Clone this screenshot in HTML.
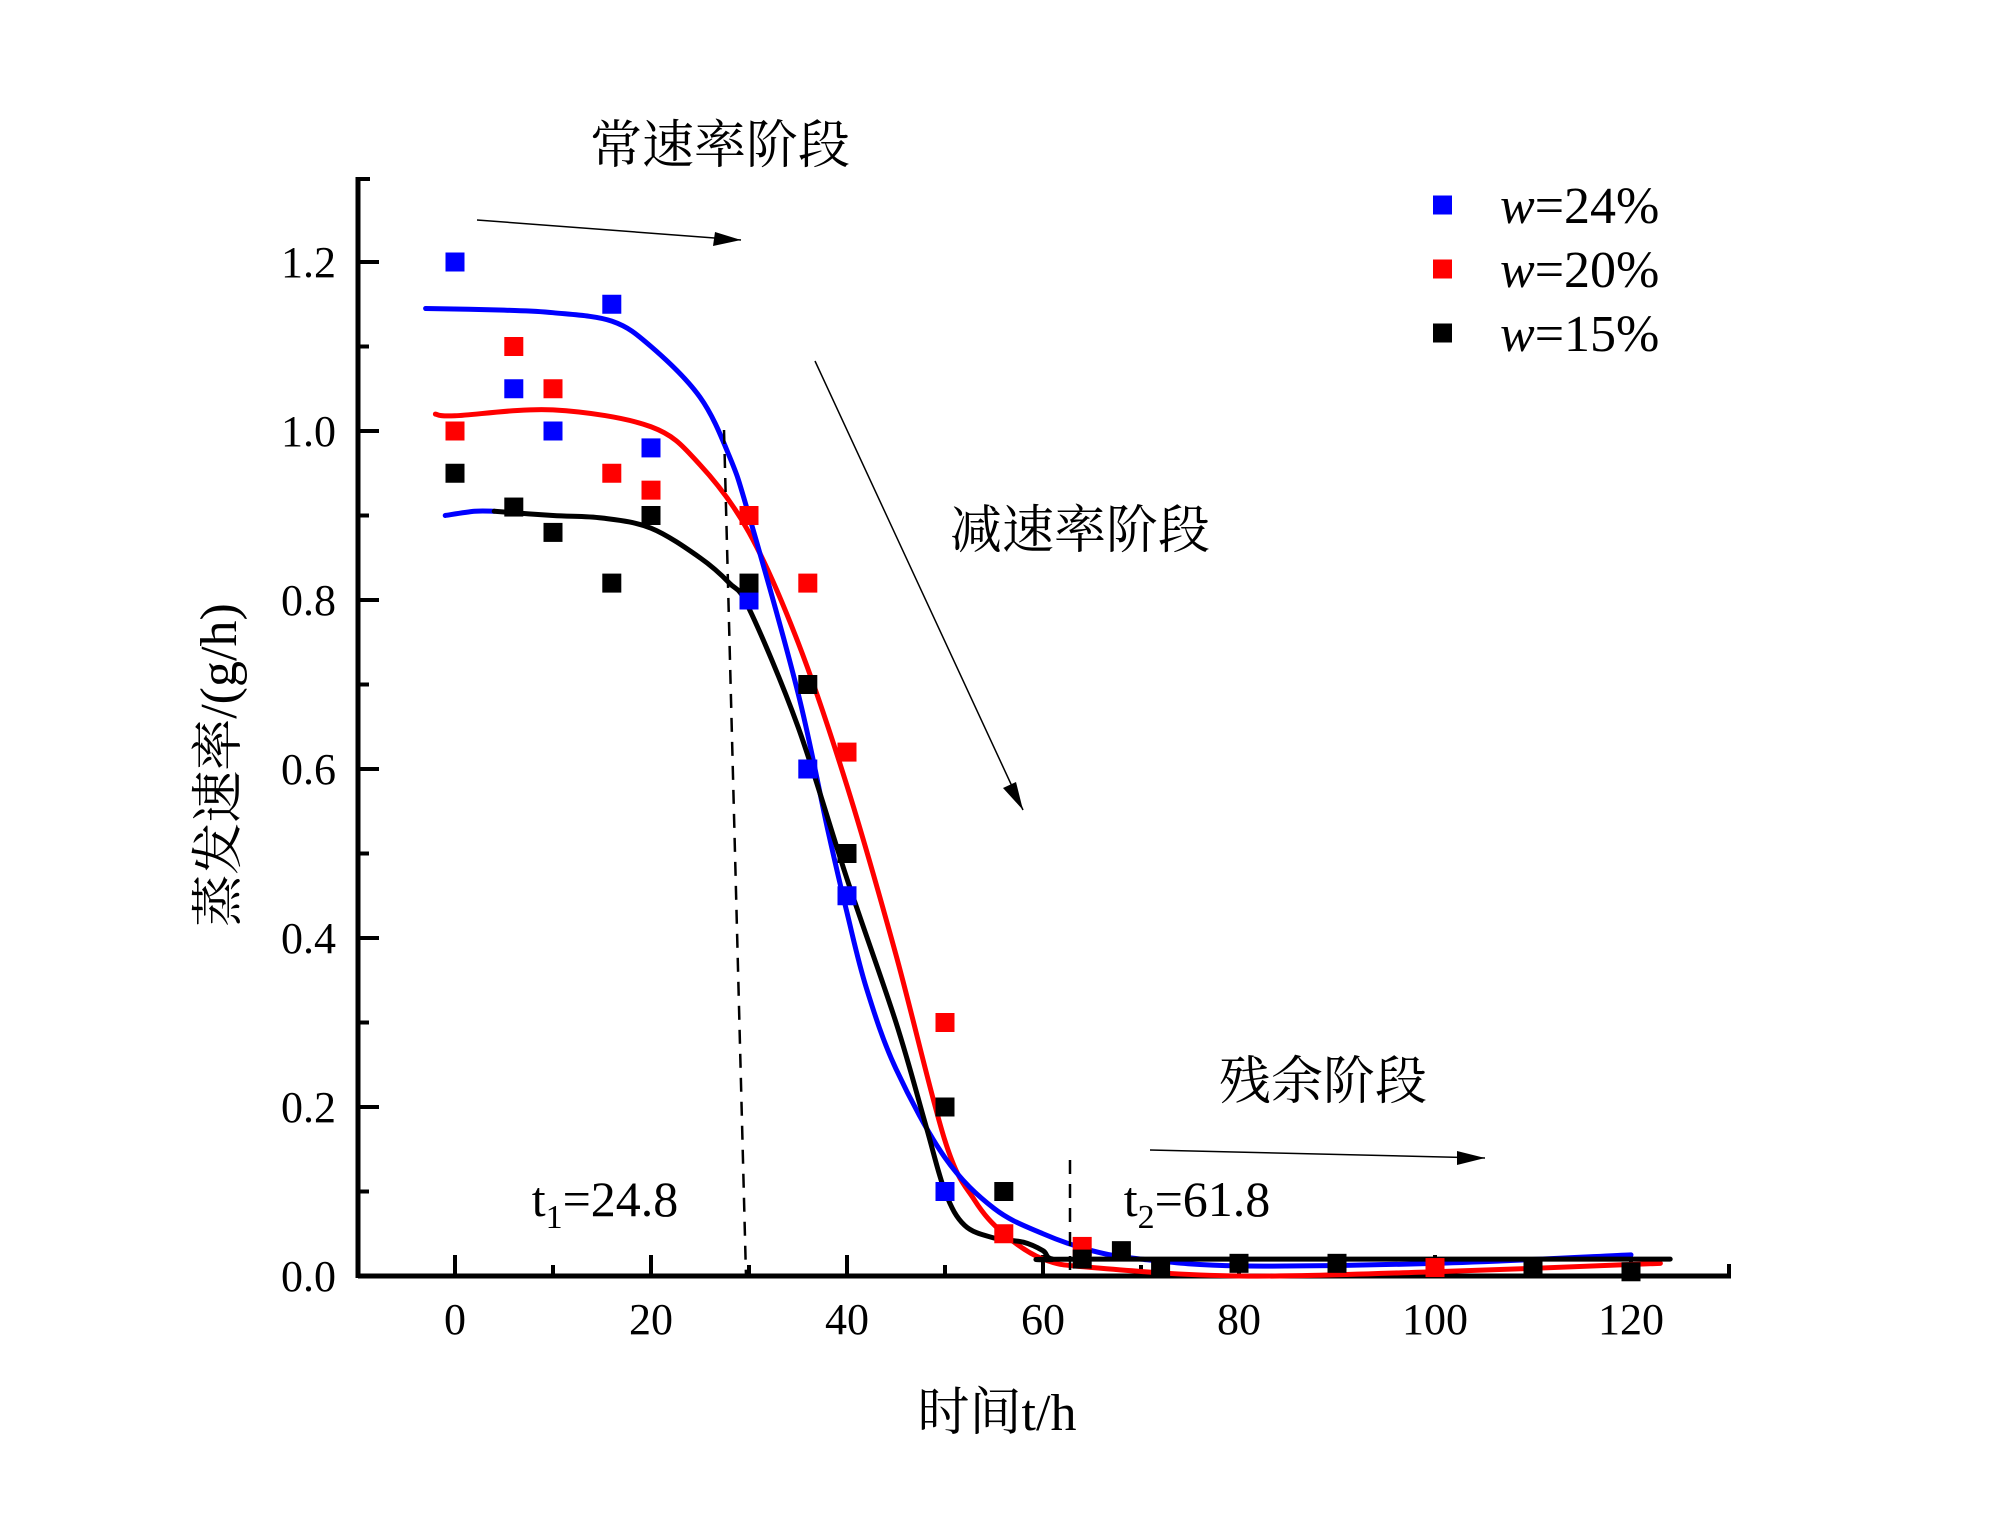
<!DOCTYPE html>
<html><head><meta charset="utf-8"><style>
html,body{margin:0;padding:0;background:#fff}
svg{display:block}
text{font-family:"Liberation Serif","Noto Serif CJK SC",serif;fill:#000}
</style></head><body>
<svg id="chart" width="2000" height="1531" viewBox="0 0 2000 1531" xmlns="http://www.w3.org/2000/svg">
<g id="axes"></g>
<g id="series"></g>
<g id="annot">
<text x="720" y="163" font-size="52" text-anchor="middle">常速率阶段</text>
<text x="1080" y="548" font-size="52" text-anchor="middle">减速率阶段</text>
<text x="1323" y="1099" font-size="52" text-anchor="middle">残余阶段</text>
<text x="605" y="1216" font-size="50" text-anchor="middle">t<tspan font-size="34" dy="12">1</tspan><tspan dy="-12">=24.8</tspan></text>
<text x="1197" y="1216" font-size="50" text-anchor="middle">t<tspan font-size="34" dy="12">2</tspan><tspan dy="-12">=61.8</tspan></text>
<line x1="724" y1="430" x2="746" y2="1276" stroke="#000" stroke-width="2.5" stroke-dasharray="14,10"/>
<line x1="1070" y1="1160" x2="1070" y2="1276" stroke="#000" stroke-width="2.5" stroke-dasharray="14,10"/>
<line x1="477" y1="220" x2="741" y2="240" stroke="#000" stroke-width="1.5"/>
<path d="M741,240 L713,246 L715,232 z" fill="#000"/>
<line x1="815" y1="361" x2="1023" y2="810" stroke="#000" stroke-width="1.5"/>
<path d="M1023,810 L1003,788 L1016,782 z" fill="#000"/>
<line x1="1150" y1="1150" x2="1485" y2="1158" stroke="#000" stroke-width="1.5"/>
<path d="M1485,1158 L1457,1165 L1457,1151 z" fill="#000"/>
</g>
<g id="legend"></g>
<text x="997" y="1430" font-size="52" text-anchor="middle">时间t/h</text>
<text transform="translate(236,765) rotate(-90)" font-size="52" text-anchor="middle">蒸发速率/(g/h)</text>
</svg>
<script>
const xTicks=[0,20,40,60,80,100,120];
const yTicks=[0.0,0.2,0.4,0.6,0.8,1.0,1.2];
const seriesNames=["w=24%","w=20%","w=15%"];
const blueX=[0,6,10,16,20,30,36,40,50];
const blueY=[1.2,1.05,1.0,1.15,0.98,0.8,0.6,0.45,0.1];
const redX=[0,6,10,16,20,30,36,40,50,56,64,100];
const redY=[1.0,1.1,1.05,0.95,0.93,0.9,0.82,0.62,0.3,0.05,0.035,0.01];
const blackX=[0,6,10,16,20,30,36,40,50,56,64,68,72,80,90,110,120];
const blackY=[0.95,0.91,0.88,0.82,0.9,0.82,0.7,0.5,0.2,0.1,0.02,0.03,0.01,0.015,0.015,0.01,0.005];
const blueFitX=[-3,5,10,16,20,25,28,30,35,38,40,42,45,50,55,60,65,70,80,100,120];
const blueFitY=[1.145,1.143,1.14,1.13,1.10,1.04,0.97,0.90,0.69,0.53,0.43,0.34,0.245,0.14,0.08,0.05,0.03,0.02,0.012,0.015,0.025];
const blueStubX=[-1,2,4];
const blueStubY=[0.9,0.905,0.905];
const redFitX=[-2,0,10,20,25,30,35,40,45,50,53,56,60,65,80,100,123];
const redFitY=[1.02,1.018,1.025,1.005,0.96,0.88,0.75,0.58,0.38,0.16,0.09,0.05,0.02,0.01,0.0,0.005,0.015];
const blackFitX=[4,10,15,20,25,28,30,35,40,45,48,50,52,55,58,60,61,65,124];
const blackFitY=[0.905,0.9,0.897,0.885,0.85,0.82,0.79,0.65,0.47,0.3,0.18,0.1,0.06,0.045,0.04,0.03,0.02,0.02,0.02];

const NS="http://www.w3.org/2000/svg";
const X0=455, XS=9.8, Y0=1276, YS=845;
const sx=v=>X0+v*XS, sy=v=>Y0-v*YS;
function mk(tag,attrs,parent){const e=document.createElementNS(NS,tag);for(const k in attrs)e.setAttribute(k,attrs[k]);parent.appendChild(e);return e;}
const axes=document.getElementById('axes');
const ser=document.getElementById('series');
const leg=document.getElementById('legend');
let el;
el=mk('line',{x1:358,y1:Y0,x2:1731,y2:Y0,stroke:'#000','stroke-width':5},axes);


el=mk('line',{x1:358,y1:177,x2:358,y2:Y0+2,stroke:'#000','stroke-width':5},axes);


mk('line',{x1:358,y1:179,x2:370,y2:179,stroke:'#000','stroke-width':4},axes);
mk('line',{x1:1729,y1:Y0,x2:1729,y2:Y0-12,stroke:'#000','stroke-width':4},axes);
for(let v=0;v<=130;v+=10){
 const major=xTicks.includes(v);
 mk('line',{x1:sx(v),y1:Y0,x2:sx(v),y2:Y0-(major?21:11),stroke:'#000','stroke-width':4},axes);
}
xTicks.forEach(v=>{
 el=mk('text',{x:sx(v),y:Y0+58,'font-size':44,'text-anchor':'middle'},axes);
 el.textContent=String(v);
 
 
});
for(let i=1;i<=12;i++){
 const v=i/10, major=(i%2===0);
 mk('line',{x1:358,y1:sy(v),x2:358+(major?21:11),y2:sy(v),stroke:'#000','stroke-width':4},axes);
}
yTicks.forEach(v=>{
 el=mk('text',{x:336,y:sy(v)+15,'font-size':44,'text-anchor':'end'},axes);
 el.textContent=v.toFixed(1);
 
 
});
function smooth(xs,ys){
 const p=xs.map((x,i)=>[sx(x),sy(ys[i])]);
 let d='M'+p[0][0]+','+p[0][1];
 for(let i=0;i<p.length-1;i++){
  const p0=p[i-1]||p[i],p1=p[i],p2=p[i+1],p3=p[i+2]||p2;
  const c1=[p1[0]+(p2[0]-p0[0])/6,p1[1]+(p2[1]-p0[1])/6];
  const c2=[p2[0]-(p3[0]-p1[0])/6,p2[1]-(p3[1]-p1[1])/6];
  d+=' C'+c1[0]+','+c1[1]+' '+c2[0]+','+c2[1]+' '+p2[0]+','+p2[1];
 }
 return d;
}
function fit(xs,ys,color,name){
 el=mk('path',{d:smooth(xs,ys),fill:'none',stroke:color,'stroke-width':5,'stroke-linecap':'round'},ser);
 
 
}
function pts(xs,ys,color,name){
 xs.forEach((x,i)=>{
  el=mk('rect',{x:sx(x)-9.5,y:sy(ys[i])-9.5,width:19,height:19,fill:color},ser);
  
  
 });
}
fit(redFitX,redFitY,'#ff0000','fit-line-w20');
fit(blueFitX,blueFitY,'#0000ff','fit-line-w24');
fit(blueStubX,blueStubY,'#0000ff','fit-line-w24-stub');
fit(blackFitX,blackFitY,'#000000','fit-line-w15');
pts(blueX,blueY,'#0000ff','point-w24');
pts(redX,redY,'#ff0000','point-w20');
pts(blackX,blackY,'#000000','point-w15');
const legColors=['#0000ff','#ff0000','#000000'];
seriesNames.forEach((n,i)=>{
 const cy=205+i*64;
 el=mk('rect',{x:1433,y:cy-9.5,width:19,height:19,fill:legColors[i]},leg);
 
 
 el=mk('text',{x:1500,y:cy+18,'font-size':52},leg);
 
 
 const t=mk('tspan',{'font-style':'italic'},el);t.textContent='w';
 const t2=mk('tspan',{},el);t2.textContent=n.slice(1);
});
</script>
</body></html>
